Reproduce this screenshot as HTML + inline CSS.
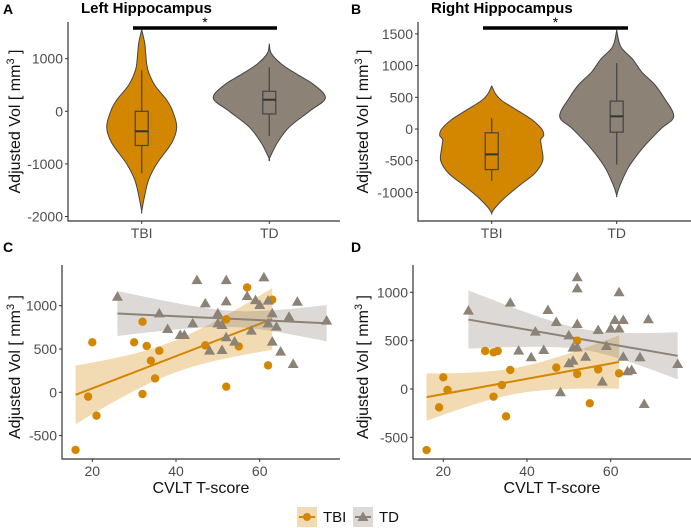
<!DOCTYPE html>
<html><head><meta charset="utf-8"><style>
body{margin:0;background:#fff}
svg{display:block;font-family:"Liberation Sans",sans-serif}
</style></head><body>
<svg id="chart" width="691" height="528" viewBox="0 0 691 528"></svg>
<script>
// ---- Violin data (value, relative half-width) ----
const aTbiVals=[1550,1300,1100,800,500,215,0,-300,-600,-1000,-1300,-1600,-1900];
const aTbiDens=[0,3,4,6,13,25,31,35,30,15,7,3,0];
const aTdVals=[1280,1100,900,700,500,250,0,-300,-600,-900];
const aTdDens=[0,2,12,28,45,56,40,20,8,0];
const bTbiVals=[680,550,450,300,150,0,-100,-170,-300,-500,-700,-900,-1100,-1250,-1330];
const bTbiDens=[0,4,10,25,40,50,52,49,50,51,43,27,12,3,0];
const bTdVals=[1560,1300,1100,900,700,500,200,0,-300,-600,-900,-1050];
const bTdDens=[0,4,16,25,38,47,57,44,26,12,3,0];
// boxes: [whiskLo,q1,median,q3,whiskHi]
const aTbiBox=[-1180,-650,-380,0,780];
const aTdBox=[-470,-50,220,380,840];
const bTbiBox=[-820,-640,-400,-60,170];
const bTdBox=[-560,-50,200,440,1040];
const groups=["TBI","TD"];
const aTicks=[1000,0,-1000,-2000];
const bTicks=[1500,1000,500,0,-500,-1000];
// ---- Scatter data ----
const cTbiX=[16,19,20,21,30,32,32,33,34,35,36,47,52,52,55,57,62,63];
const cTbiY=[-665,-50,577,-270,577,815,-20,535,365,160,480,542,65,842,530,1211,311,1069];
const cTdX=[26,36,38,41,42,44,45,47,48,50,50,51,51,52,52,52,54,57,58,59,60,61,62,62,63,63,64,65,67,68,69,76];
const cTdY=[1104,912,731,662,662,796,1296,1027,481,912,796,777,488,1296,1050,635,585,1111,712,1065,1008,1327,1058,796,912,585,758,469,873,327,1046,827];
const dTbiX=[16,19,20,21,30,32,33,32,34,35,36,47,52,52,55,57,62];
const dTbiY=[-631,-190,121,-10,393,379,393,-79,41,-283,197,221,500,155,-148,203,162];
const dTdX=[26,36,38,41,42,44,45,47,48,50,50,51,51,52,52,52,52,54,57,58,59,60,61,62,62,63,63,64,65,67,68,69,76];
const dTdY=[810,893,397,328,593,403,817,693,-34,266,555,293,428,1155,1041,672,431,334,610,76,445,624,714,1000,624,714,334,183,197,328,-155,721,259];
const xTicks=[20,40,60];
const cTicks=[1000,500,0,-500];
const dTicks=[1000,500,0,-500];

const ORANGE="#D38700",GRAY="#8C8276",TXT="#4d4d4d",NS="http://www.w3.org/2000/svg";
const svg=document.getElementById('chart');
function el(tag,attrs,parent,text){const e=document.createElementNS(NS,tag);for(const k in attrs)e.setAttribute(k,attrs[k]);if(text!==undefined)e.textContent=text;(parent||svg).appendChild(e);return e;}
function lin(d0,d1,r0,r1){return v=>r0+(v-d0)*(r1-r0)/(d1-d0);}
function smooth(pts){
  let d='M'+pts[0][0]+','+pts[0][1];
  for(let i=0;i<pts.length-1;i++){
    const p0=pts[Math.max(0,i-1)],p1=pts[i],p2=pts[i+1],p3=pts[Math.min(pts.length-1,i+2)];
    const c1=[p1[0]+(p2[0]-p0[0])/6,p1[1]+(p2[1]-p0[1])/6],c2=[p2[0]-(p3[0]-p1[0])/6,p2[1]-(p3[1]-p1[1])/6];
    d+=`C${c1[0]},${c1[1]} ${c2[0]},${c2[1]} ${p2[0]},${p2[1]}`;
  }
  return d;
}

function axes(g,left,top,right,bottom){
  const a=el('path',{d:`M${left},${top}V${bottom}H${right}`,stroke:'#333',fill:'none','stroke-width':1.2},g);
  
}
function yTicks(g,ticks,ys,left){
  ticks.forEach(t=>{const y=ys(t);
    const l=el('line',{x1:left-3,x2:left,y1:y,y2:y,stroke:'#333'},g);
    
    const tx=el('text',{x:left-5,y:y+5,'text-anchor':'end','font-size':14,fill:TXT},g,t);
    
  });
}
function yTitle(g,x,y){
  const t=el('text',{transform:`translate(${x},${y}) rotate(-90)`,'text-anchor':'middle','font-size':16,fill:'#111'},g);
  
  t.appendChild(document.createTextNode('Adjusted Vol [ mm'));
  el('tspan',{'font-size':11,dy:-6},t,'3');
  el('tspan',{dy:6},t,' ]');
}
function label(g,x,y,txt,size){const t=el('text',{x:x,y:y,'font-size':size,'font-weight':'bold',fill:'#000'},g,txt);return t;}

function violinPanel(name,left,top,right,bottom,y0v,y0p,y1v,y1p,ticks,cx,data,sig,title,letter,letterX,titleX){
  const g=el('g',{});
  const ys=lin(y0v,y1v,y0p,y1p);
  data.forEach((d,i)=>{
    const x=cx[i];let pts=[];
    d.vals.forEach((v,j)=>pts.push([x+d.dens[j],ys(v)]));
    for(let j=d.vals.length-1;j>=0;j--)pts.push([x-d.dens[j],ys(d.vals[j])]);
    const p=el('path',{d:smooth(pts)+'Z',fill:d.color,stroke:'#444','stroke-width':1,'stroke-linejoin':'round'},g);
    
    const b=d.box;
    const w=el('line',{x1:x,x2:x,y1:ys(b[0]),y2:ys(b[4]),stroke:'#444','stroke-width':1.2},g);
    
    const r=el('rect',{x:x-6.5,y:ys(b[3]),width:13,height:ys(b[1])-ys(b[3]),fill:d.color,stroke:'#444','stroke-width':1.2},g);
    
    const m=el('line',{x1:x-6.5,x2:x+6.5,y1:ys(b[2]),y2:ys(b[2]),stroke:'#333','stroke-width':2},g);
    
    const t=el('text',{x:x,y:bottom+17,'text-anchor':'middle','font-size':14,fill:TXT},g,groups[i]);
    
    const tk=el('line',{x1:x,x2:x,y1:bottom,y2:bottom+3,stroke:'#333'},g);
    
  });
  axes(g,left,top,right,bottom);
  yTicks(g,ticks,ys,left);
  const s=el('line',{x1:sig[0],x2:sig[1],y1:28,y2:28,stroke:'#000','stroke-width':3.5},g);
  
  const a=el('text',{x:(sig[0]+sig[1])/2,y:27,'text-anchor':'middle','font-size':14,fill:'#000'},g,'*');
  
  label(g,letterX,14,letter,14);
  const tt=el('text',{x:titleX,y:13,'font-size':15,'font-weight':'bold',fill:'#000'},g,title);
  
  yTitle(g,letterX+17,(top+bottom)/2);
}
violinPanel('panel-a-left-hippocampus',68,22,340,221,0,111.3,1000,58.7,aTicks,[141.7,269.3],
  [{vals:aTbiVals,dens:aTbiDens,box:aTbiBox,color:ORANGE},{vals:aTdVals,dens:aTdDens,box:aTdBox,color:GRAY}],
  [133,277],'Left Hippocampus','A',3,81);
violinPanel('panel-b-right-hippocampus',418,22,691,221,0,129,500,97.3,bTicks,[491.7,616.7],
  [{vals:bTbiVals,dens:bTbiDens,box:bTbiBox,color:ORANGE},{vals:bTdVals,dens:bTdDens,box:bTdBox,color:GRAY}],
  [483,628],'Right Hippocampus','B',351,431);

function fit(X,Y){
  const n=X.length,mx=X.reduce((a,b)=>a+b)/n,my=Y.reduce((a,b)=>a+b)/n;
  let sxx=0,sxy=0;X.forEach((x,i)=>{sxx+=(x-mx)**2;sxy+=(x-mx)*(Y[i]-my);});
  const b=sxy/sxx,a=my-b*mx;let sse=0;X.forEach((x,i)=>{sse+=(Y[i]-a-b*x)**2;});
  const s=Math.sqrt(sse/(n-2));
  return {a,b,se:x=>2.05*s*Math.sqrt(1/n+(x-mx)**2/sxx),min:Math.min(...X),max:Math.max(...X)};
}
function scatterPanel(name,left,top,right,bottom,xs,ys,ticks,series,letter,letterX){
  const g=el('g',{});
  series.forEach(s=>{
    const f=fit(s.x,s.y);const N=40;let up=[],lo=[];
    for(let i=0;i<=N;i++){const x=f.min+(f.max-f.min)*i/N,yh=f.a+f.b*x;up.push([xs(x),ys(yh+f.se(x))]);lo.push([xs(x),ys(yh-f.se(x))]);}
    const band=el('path',{d:'M'+up.map(p=>p.join(',')).join('L')+'L'+lo.reverse().map(p=>p.join(',')).join('L')+'Z',fill:s.color,opacity:0.3},g);
    
    const ln=el('line',{x1:xs(f.min),y1:ys(f.a+f.b*f.min),x2:xs(f.max),y2:ys(f.a+f.b*f.max),stroke:s.color,'stroke-width':2},g);
    
  });
  series.forEach(s=>{
    s.x.forEach((x,i)=>{
      const px=xs(x),py=ys(s.y[i]);let m;
      if(s.name==='tbi')m=el('circle',{cx:px,cy:py,r:4.2,fill:s.color},g);
      else m=el('path',{d:`M${px},${py-5.5}L${px+5.5},${py+4}L${px-5.5},${py+4}Z`,fill:s.color},g);
      
    });
  });
  axes(g,left,top,right,bottom);
  yTicks(g,ticks,ys,left);
  xTicks.forEach(t=>{const x=xs(t);
    const l=el('line',{x1:x,x2:x,y1:bottom,y2:bottom+3,stroke:'#333'},g);
    
    const tx=el('text',{x:x,y:bottom+17,'text-anchor':'middle','font-size':14,fill:TXT},g,t);
    
  });
  const xt=el('text',{x:(left+right)/2,y:bottom+34,'text-anchor':'middle','font-size':16,fill:'#111'},g,'CVLT T-score');
  
  label(g,letterX,252,letter,14);
  yTitle(g,letterX+17,(top+bottom)/2+5);
}
scatterPanel('panel-c-left-scatter',62,265,340,459,lin(20,40,92.3,176),lin(0,1000,392.3,305.7),cTicks,
  [{name:'tbi',x:cTbiX,y:cTbiY,color:ORANGE},{name:'td',x:cTdX,y:cTdY,color:GRAY}],'C',3);
scatterPanel('panel-d-right-scatter',413,265,691,459,lin(20,40,443.3,527),lin(0,1000,389,292.3),dTicks,
  [{name:'tbi',x:dTbiX,y:dTbiY,color:ORANGE},{name:'td',x:dTdX,y:dTdY,color:GRAY}],'D',351);

// legend
const lg=el('g',{});
[[297,ORANGE,'TBI','tbi'],[353,GRAY,'TD','td']].forEach(([x,c,t,n])=>{
  const k=el('rect',{x:x,y:507,width:20,height:20,fill:c,opacity:0.3},lg);
  
  const l=el('line',{x1:x+2,x2:x+18,y1:517,y2:517,stroke:c,'stroke-width':2},lg);
  
  let m;
  if(n==='tbi')m=el('circle',{cx:x+10,cy:517,r:4,fill:c},lg);
  else m=el('path',{d:`M${x+10},${511.5}L${x+15.5},${521}L${x+4.5},${521}Z`,fill:c},lg);
  
  const tx=el('text',{x:x+26,y:522,'font-size':15,fill:'#111'},lg,t);
  
});
</script>
</body></html>
